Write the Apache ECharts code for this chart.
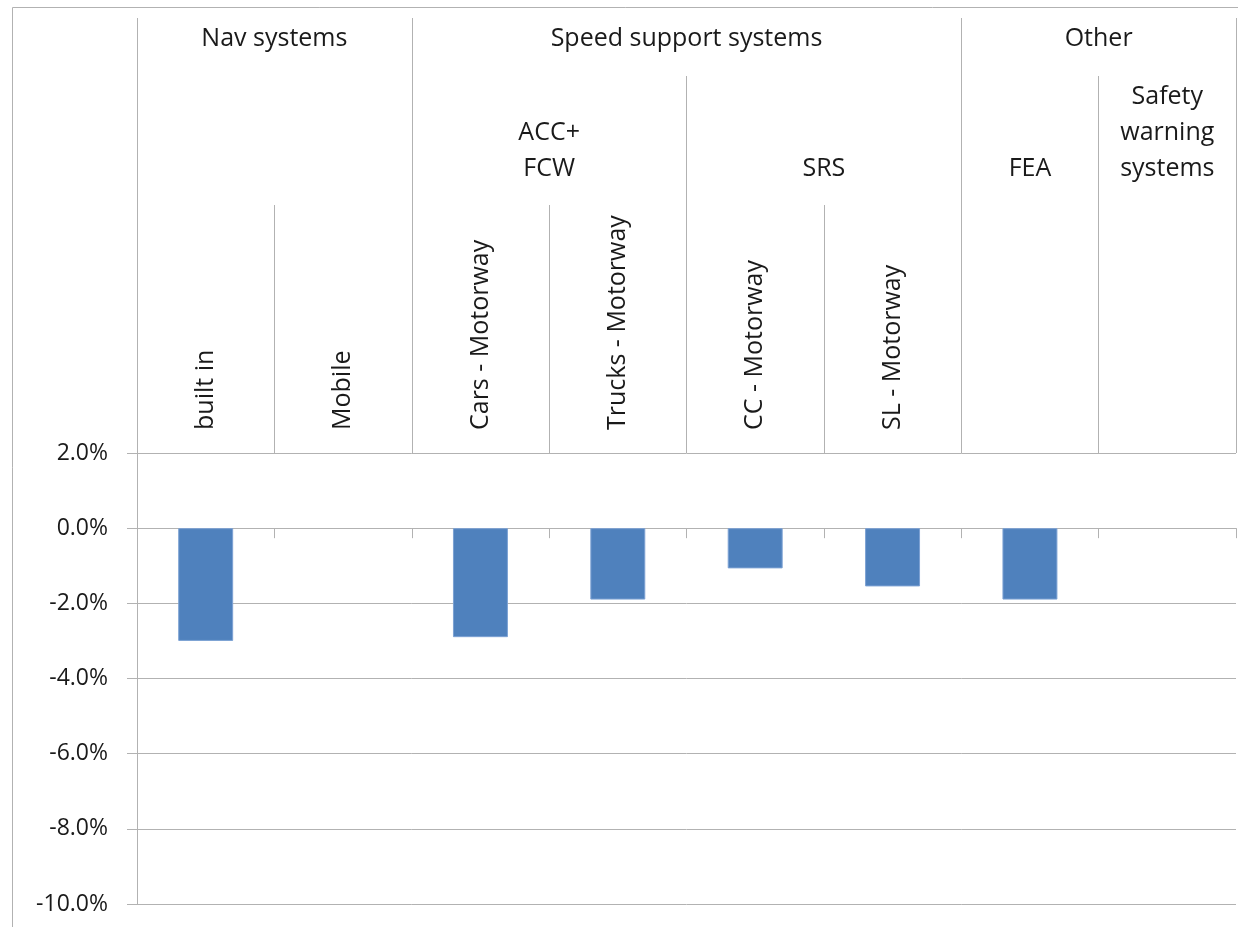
<!DOCTYPE html>
<html>
<head>
<meta charset="utf-8">
<title>Change by system type</title>
<script src="https://cdn.jsdelivr.net/npm/echarts@6/dist/echarts.min.js"></script>
<style>
  html, body { margin: 0; padding: 0; background: #ffffff; }
  #chart { width: 1238px; height: 927px; }
</style>
</head>
<body>
<div id="chart"></div>
<script>
// Category hierarchy: top-level groups, second-level subgroups, leaf categories
const groups = ['Nav systems', 'Speed support systems', 'Other'];
const groupSpans = [2, 4, 2];
const subgroups = ['', 'ACC+\nFCW', 'SRS', 'FEA', 'Safety\nwarning\nsystems'];
const subgroupSpans = [2, 2, 2, 1, 1];
const categories = ['built in', 'Mobile', 'Cars - Motorway', 'Trucks - Motorway',
                    'CC - Motorway', 'SL - Motorway', 'FEA', 'Safety warning systems'];
const leafLabels = ['built in', 'Mobile', 'Cars - Motorway', 'Trucks - Motorway',
                    'CC - Motorway', 'SL - Motorway', '', ''];

// Change in percent per category (no value for Mobile and Safety warning systems)
const changePct = [-3.0, null, -2.9, -1.9, -1.07, -1.55, -1.9, null];

// Value axis ticks, in percent
const yTicks = [-10, -8, -6, -4, -2, 0, 2];

const LINE = '#b2b2b2';
const TEXT = '#1a1a1a';
const FONT = '"Open Sans", "Noto Sans", sans-serif';

const chart = echarts.init(document.getElementById('chart'), null, { renderer: 'canvas' });

chart.setOption({
  animation: false,
  backgroundColor: '#ffffff',
  grid: { left: 137, right: 2, top: 453, bottom: 23 },
  xAxis: [
    {
      type: 'category',
      data: categories,
      position: 'bottom',
      axisLine: { onZero: true, lineStyle: { color: LINE, width: 1 } },
      axisTick: { show: true, interval: 0, length: 10, lineStyle: { color: LINE } },
      axisLabel: { show: false },
      splitLine: { show: false }
    },
    {
      type: 'category',
      data: leafLabels,
      position: 'top',
      axisLine: { show: false, onZero: false },
      axisTick: { show: false },
      axisLabel: {
        interval: 0,
        rotate: -90,
        margin: 23,
        fontFamily: FONT,
        fontSize: 25,
        color: TEXT
      },
      splitLine: { show: false }
    }
  ],
  yAxis: {
    type: 'value',
    min: yTicks[0],
    max: yTicks[yTicks.length - 1],
    interval: yTicks[1] - yTicks[0],
    axisLine: { show: true, lineStyle: { color: LINE } },
    axisTick: { show: true, length: 10, lineStyle: { color: LINE } },
    splitLine: { show: true, lineStyle: { color: LINE, width: 1 } },
    axisLabel: {
      formatter: v => v.toFixed(1) + '%',
      margin: 29,
      fontFamily: FONT,
      fontSize: 23,
      color: TEXT
    }
  },
  series: [
    {
      type: 'bar',
      xAxisIndex: 0,
      data: changePct,
      barWidth: '40%',
      itemStyle: { color: '#4f81bd', borderColor: '#7ca1d3', borderWidth: 1 }
    }
  ]
});

// Header cells above the plot: boundaries come from the category axis scale
const c0 = chart.convertToPixel({ xAxisIndex: 0 }, categories[0]);
const c1 = chart.convertToPixel({ xAxisIndex: 0 }, categories[1]);
const step = c1 - c0;
const edge = k => c0 - step / 2 + k * step;
// same half-pixel snapping the axis lines use
const crisp = p => {
  const d = Math.round(p * 2);
  return (d + 1) % 2 === 0 ? d / 2 : (d + 1) / 2;
};
const plotTop = chart.convertToPixel({ yAxisIndex: 0 }, yTicks[yTicks.length - 1]);

const ROW1_TOP = 18;
const ROW2_TOP = 76;
const ROW3_TOP = 205;
const ROW1_TEXT_Y = 39;
const ROW2_LAST_LINE_Y = 169;
const ROW2_LINE_H = 36;

const elements = [];

// chart frame
elements.push({
  type: 'rect', silent: true,
  shape: { x: 12.5, y: 7.5, width: 1400, height: 1000 },
  style: { fill: null, stroke: LINE, lineWidth: 1 }
});

const lineTop = new Array(categories.length + 1).fill(ROW3_TOP);

function label(text, x, y) {
  elements.push({
    type: 'text', silent: true,
    x: x, y: y,
    style: {
      text: text,
      fill: TEXT,
      fontFamily: FONT,
      fontSize: 25,
      lineHeight: ROW2_LINE_H,
      align: 'center',
      verticalAlign: 'middle'
    }
  });
}

// second-level subgroups
let k = 0;
lineTop[0] = ROW2_TOP;
subgroups.forEach((s, i) => {
  const a = k, b = k + subgroupSpans[i];
  lineTop[b] = Math.min(lineTop[b], ROW2_TOP);
  if (s) {
    const n = s.split('\n').length;
    label(s, (edge(a) + edge(b)) / 2, ROW2_LAST_LINE_Y - (n - 1) * ROW2_LINE_H / 2);
  }
  k = b;
});

// top-level groups
k = 0;
lineTop[0] = ROW1_TOP;
groups.forEach((g, i) => {
  const a = k, b = k + groupSpans[i];
  lineTop[b] = ROW1_TOP;
  label(g, (edge(a) + edge(b)) / 2, ROW1_TEXT_Y);
  k = b;
});

// cell boundaries from the plot top up to the level they close
lineTop.forEach((top, j) => {
  const x = crisp(edge(j));
  elements.push({
    type: 'line', silent: true,
    shape: { x1: x, y1: top, x2: x, y2: plotTop },
    style: { stroke: LINE, lineWidth: 1 }
  });
});

chart.setOption({ graphic: { elements: elements } });
</script>
</body>
</html>
